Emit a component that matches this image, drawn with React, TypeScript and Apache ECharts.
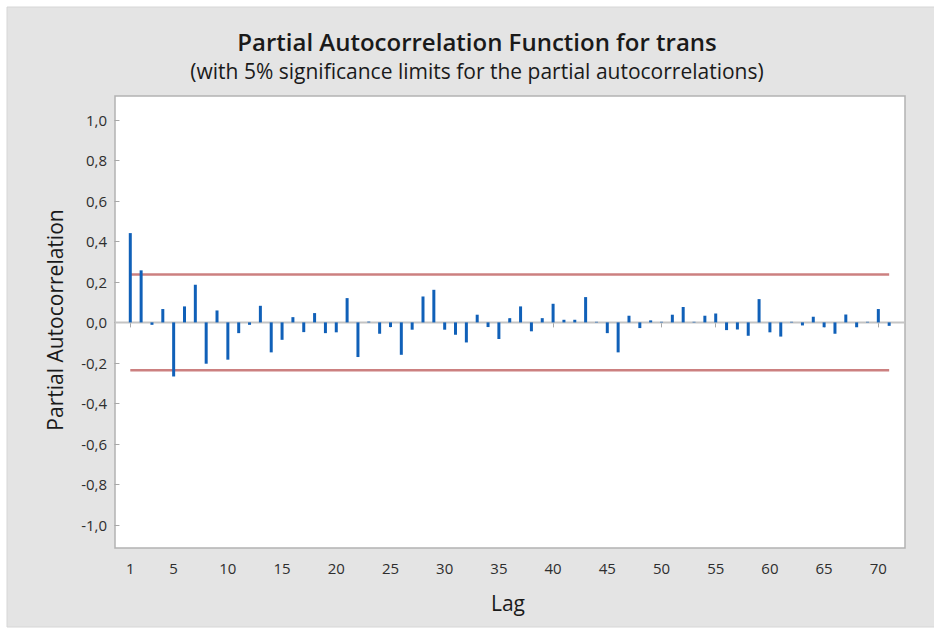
import React, { useEffect, useRef } from "react";
import * as echarts from "echarts";

const titleText = "Partial Autocorrelation Function for trans";
const subtitleText = "(with 5% significance limits for the partial autocorrelations)";
const xName = "Lag";
const yName = "Partial Autocorrelation";

// PACF values for lags 1..71
const pacf = [
  0.441, 0.257, -0.012, 0.066, -0.267, 0.079, 0.186, -0.204, 0.059, -0.184,
  -0.053, -0.012, 0.082, -0.148, -0.086, 0.026, -0.048, 0.046, -0.053, -0.049,
  0.12, -0.171, 0.004, -0.056, -0.023, -0.16, -0.036, 0.128, 0.161, -0.036,
  -0.061, -0.099, 0.038, -0.023, -0.082, 0.021, 0.079, -0.044, 0.021, 0.092,
  0.013, 0.013, 0.125, 0.003, -0.053, -0.148, 0.033, -0.028, 0.01, 0.003,
  0.038, 0.076, 0.003, 0.033, 0.044, -0.038, -0.035, -0.066, 0.115, -0.049,
  -0.07, 0.003, -0.015, 0.028, -0.024, -0.056, 0.039, -0.024, 0.003, 0.066,
  -0.017,
];
const sigLimit = 0.236;
const xTickValues = [1, 5, 10, 15, 20, 25, 30, 35, 40, 45, 50, 55, 60, 65, 70];
const yTickValues = [-1, -0.8, -0.6, -0.4, -0.2, 0, 0.2, 0.4, 0.6, 0.8, 1];

export default function App() {
  const ref = useRef<HTMLDivElement>(null);
  useEffect(() => {
    if (!ref.current) return;
    const chart = echarts.init(ref.current, null, { renderer: "svg" });
    const barData = pacf.map((v, i) => [i + 1, v]);
    const firstLag = 1;
    const lastLag = pacf.length;
    const font = "'Open Sans', 'Noto Sans', sans-serif";
    chart.setOption({
      animation: false,
      backgroundColor: "#ffffff",
      graphic: [
        {
          type: "rect",
          z: -10,
          silent: true,
          shape: { x: 7, y: 7, width: 940, height: 620 },
          style: { fill: "#e4e4e4", stroke: "#d6d6d6", lineWidth: 1 },
        },
        {
          type: "text",
          x: 477,
          y: 41,
          style: {
            text: titleText,
            font: `600 24px ${font}`,
            fill: "#1a1a1a",
            align: "center",
            verticalAlign: "middle",
          },
        },
        {
          type: "text",
          x: 477,
          y: 71,
          style: {
            text: subtitleText,
            font: `400 21px ${font}`,
            fill: "#1a1a1a",
            align: "center",
            verticalAlign: "middle",
          },
        },
        {
          type: "text",
          x: 508,
          y: 603,
          style: {
            text: xName,
            font: `400 21px ${font}`,
            fill: "#1a1a1a",
            align: "center",
            verticalAlign: "middle",
          },
        },
        {
          type: "text",
          x: 55,
          y: 320,
          rotation: Math.PI / 2,
          style: {
            text: yName,
            font: `400 21px ${font}`,
            fill: "#1a1a1a",
            align: "center",
            verticalAlign: "middle",
          },
        },
      ],
      grid: {
        left: 115,
        top: 96,
        width: 790,
        height: 452,
        show: true,
        backgroundColor: "#ffffff",
        borderColor: "#b2b2b2",
        borderWidth: 1.5,
        containLabel: false,
      },
      xAxis: {
        type: "value",
        min: -0.41,
        max: 72.46,
        splitLine: { show: false },
        axisLine: { show: false },
        axisTick: {
          show: true,
          length: 5,
          customValues: xTickValues,
          lineStyle: { color: "#a8a8a8" },
        },
        axisLabel: {
          customValues: xTickValues,
          color: "#2e2e2e",
          fontSize: 15,
          fontFamily: font,
          margin: 12,
        },
      },
      yAxis: {
        type: "value",
        min: -1.114,
        max: 1.118,
        splitLine: { show: false },
        axisLine: { show: false },
        axisTick: {
          show: true,
          length: 5,
          customValues: yTickValues,
          lineStyle: { color: "#a8a8a8" },
        },
        axisLabel: {
          customValues: yTickValues,
          color: "#2e2e2e",
          fontSize: 15,
          fontFamily: font,
          margin: 8,
          formatter: (v: number) => v.toFixed(1).replace(".", ","),
        },
      },
      series: [
        {
          type: "line",
          data: [
            [-0.41, 0],
            [72.46, 0],
          ],
          symbol: "none",
          silent: true,
          lineStyle: { color: "#c4c4c4", width: 2 },
          z: 1,
        },
        {
          type: "bar",
          data: barData,
          barWidth: 3,
          itemStyle: { color: "#1060b8" },
          z: 3,
        },
        {
          type: "line",
          data: [
            [firstLag, sigLimit],
            [lastLag, sigLimit],
          ],
          symbol: "none",
          silent: true,
          lineStyle: { color: "#cc8080", width: 2.5 },
          z: 2,
        },
        {
          type: "line",
          data: [
            [firstLag, -sigLimit],
            [lastLag, -sigLimit],
          ],
          symbol: "none",
          silent: true,
          lineStyle: { color: "#cc8080", width: 2.5 },
          z: 2,
        },
      ],
    });
    return () => chart.dispose();
  }, []);
  return (
    <div
      ref={ref}
      style={{ position: "fixed", left: 0, top: 0, width: 934, height: 629 }}
    />
  );
}
